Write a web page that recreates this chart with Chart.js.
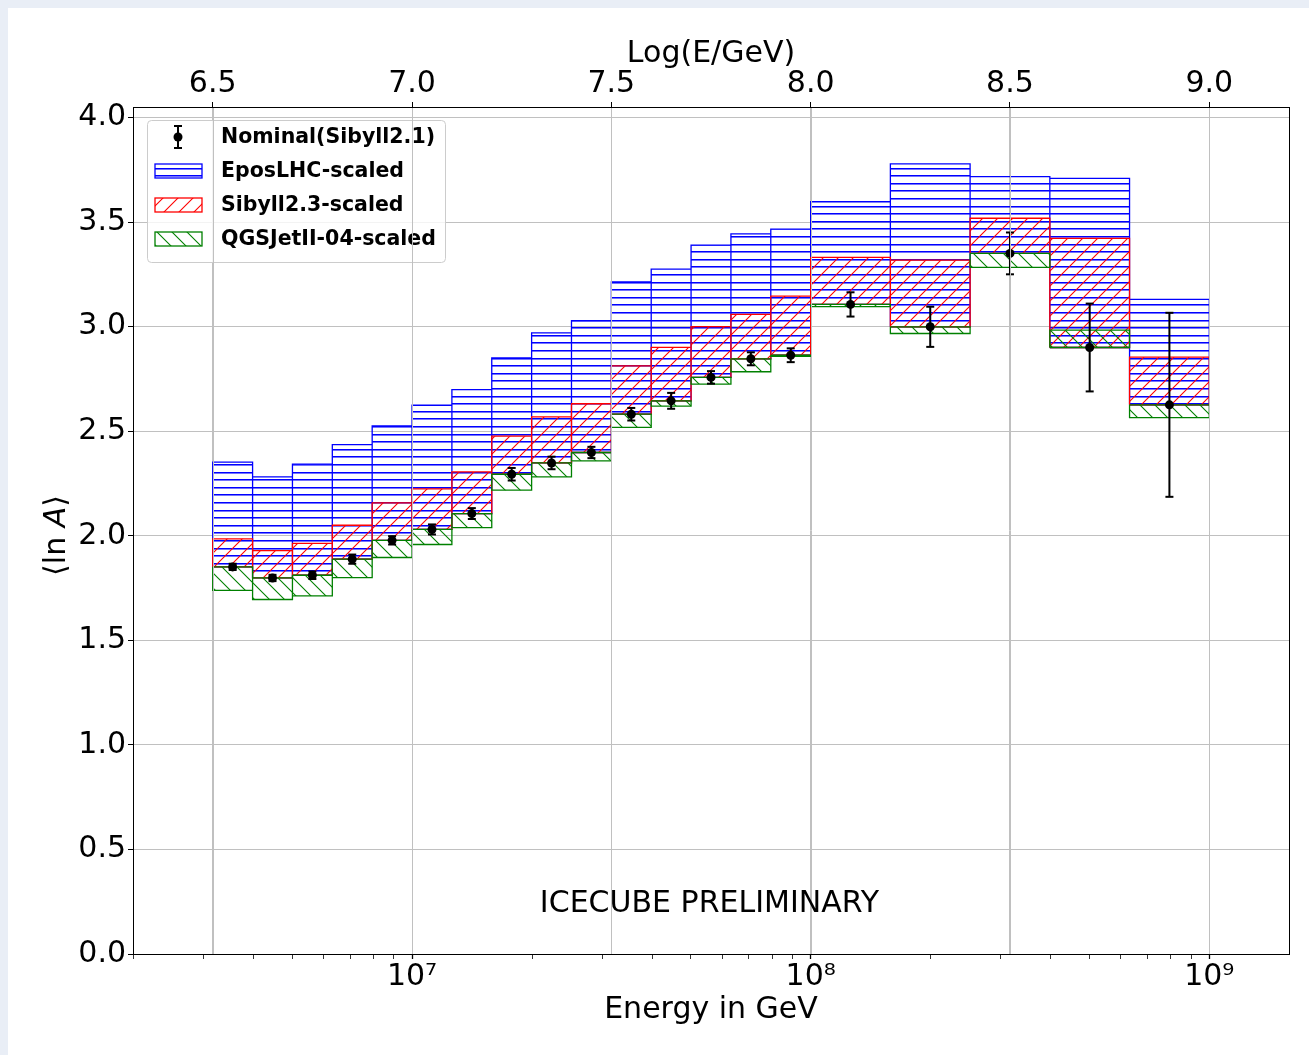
<!DOCTYPE html>
<html>
<head>
<meta charset="utf-8">
<title>lnA vs energy</title>
<script src="https://cdn.jsdelivr.net/npm/chart.js@4.4.1/dist/chart.umd.min.js"></script>
<style>
  html, body { margin: 0; padding: 0; background: #e9eef6; }
  #wrap { position: absolute; left: 8px; top: 8px; width: 1301px; height: 1047px; background: #fff; }
  canvas { display: block; }
</style>
</head>
<body>
<div id="wrap"><canvas id="chart" width="1301" height="1047"></canvas></div>
<script>
// bin edges in log10(E/GeV)
const binEdges = [6.5, 6.6, 6.7, 6.8, 6.9, 7.0, 7.1, 7.2, 7.3, 7.4, 7.5,
                  7.6, 7.7, 7.8, 7.9, 8.0, 8.2, 8.4, 8.6, 8.8, 9.0];

// nominal <lnA> (Sibyll2.1) and its error
const nominal = [1.851, 1.798, 1.811, 1.888, 1.978, 2.030, 2.106, 2.294, 2.348, 2.398,
                 2.581, 2.645, 2.757, 2.846, 2.863, 3.106, 2.999, 3.350, 2.900, 2.626];
const nominalErr = [0.015, 0.015, 0.018, 0.022, 0.020, 0.024, 0.026, 0.030, 0.030, 0.027,
                    0.030, 0.038, 0.030, 0.031, 0.033, 0.058, 0.096, 0.100, 0.210, 0.440];

// scaled values from the other hadronic models
const eposLHC = [2.352, 2.281, 2.342, 2.436, 2.525, 2.624, 2.699, 2.850, 2.970, 3.029,
                 3.214, 3.275, 3.390, 3.443, 3.466, 3.597, 3.778, 3.717, 3.709, 3.130];
const sibyll23 = [1.985, 1.929, 1.963, 2.050, 2.157, 2.224, 2.305, 2.476, 2.568, 2.631,
                  2.812, 2.901, 3.000, 3.058, 3.146, 3.331, 3.318, 3.518, 3.422, 2.854];
const qgsjet = [1.739, 1.695, 1.712, 1.800, 1.896, 1.958, 2.039, 2.218, 2.281, 2.358,
                2.518, 2.620, 2.725, 2.784, 2.858, 3.095, 2.967, 3.283, 2.983, 2.565];

const superscripts = { 6: '\u2076', 7: '\u2077', 8: '\u2078', 9: '\u2079' };
const FONT = "'DejaVu Sans', 'Liberation Sans', sans-serif";
const xMinLog = 6.3, xMaxLog = 9.2;

function hatch(kind, color) {
  const c = document.createElement('canvas');
  const g = c.getContext('2d');
  if (kind === '-') {
    c.width = 8; c.height = 38;
    [0, 8, 15, 23, 30].forEach(y => {
      g.fillStyle = color;
      g.fillRect(0, y, 8, 1);
      g.fillStyle = 'rgba(40,40,255,0.65)';
      g.fillRect(0, y + 1, 8, 1);
    });
  } else {
    c.width = 15; c.height = 15;
    g.strokeStyle = color;
    g.lineWidth = 1.1;
    g.beginPath();
    if (kind === '/') {
      g.moveTo(0, 15); g.lineTo(15, 0);
      g.moveTo(-2, 2); g.lineTo(2, -2);
      g.moveTo(13, 17); g.lineTo(17, 13);
    } else {
      g.moveTo(0, 0); g.lineTo(15, 15);
      g.moveTo(-2, 13); g.lineTo(2, 17);
      g.moveTo(13, -2); g.lineTo(17, 2);
    }
    g.stroke();
  }
  return g.createPattern(c, 'repeat');
}

// one closed rectangle per bin, from the nominal value to the model value
function boxPoints(model) {
  const pts = [];
  model.forEach((v, i) => {
    const x0 = Math.pow(10, binEdges[i]);
    const x1 = Math.pow(10, binEdges[i + 1]);
    const b = nominal[i];
    pts.push({x: x0, y: b}, {x: x0, y: v}, {x: x1, y: v}, {x: x1, y: b}, {x: x0, y: b}, {x: x1, y: null});
  });
  return pts;
}

const centers = nominal.map((v, i) => Math.pow(10, (binEdges[i] + binEdges[i + 1]) / 2));
const pointData = nominal.map((v, i) => ({x: centers[i], y: v}));
const errData = [];
nominal.forEach((v, i) => {
  errData.push({x: centers[i], y: v - nominalErr[i]}, {x: centers[i], y: v + nominalErr[i]}, {x: centers[i], y: null});
});

const logTicks = [];
for (let d = 6; d <= 9; d++) {
  for (let m = 1; m <= 9; m++) {
    const v = m * Math.pow(10, d);
    const l = Math.log10(v);
    if (l >= xMinLog && l <= xMaxLog) logTicks.push({value: v, major: m === 1});
  }
}

function boxDataset(label, model, color, kind, order) {
  return {
    label: label,
    legendKind: 'patch',
    data: boxPoints(model),
    borderColor: color,
    backgroundColor: hatch(kind, color),
    borderWidth: 1.3,
    fill: 'shape',
    pointRadius: 0,
    pointHitRadius: 0,
    tension: 0,
    spanGaps: false,
    order: order
  };
}

const legendPlugin = {
  id: 'mplLegend',
  afterDatasetsDraw(chart) {
    const {ctx, chartArea: a} = chart;
    const fx = a.left + 14, fy = a.top + 13, fw = 298, fh = 142;
    ctx.save();
    ctx.beginPath();
    ctx.roundRect(fx + 0.5, fy + 0.5, fw, fh, 4);
    ctx.fillStyle = 'rgba(255,255,255,0.8)';
    ctx.fill();
    ctx.strokeStyle = '#cccccc';
    ctx.lineWidth = 1;
    ctx.stroke();

    const items = chart.data.datasets.filter(d => d.legendKind).sort((p, q) => p.legendRank - q.legendRank);
    ctx.font = 'bold 20.5px ' + FONT;
    ctx.textBaseline = 'middle';
    ctx.textAlign = 'left';
    items.forEach((ds, i) => {
      const cy = fy + 17 + 34 * i;
      const hx = fx + 8;
      if (ds.legendKind === 'errorbar') {
        const cx = hx + 23;
        ctx.strokeStyle = '#000';
        ctx.lineWidth = 2;
        ctx.beginPath();
        ctx.moveTo(cx, cy - 11); ctx.lineTo(cx, cy + 11);
        ctx.moveTo(cx - 4, cy - 11); ctx.lineTo(cx + 4, cy - 11);
        ctx.moveTo(cx - 4, cy + 11); ctx.lineTo(cx + 4, cy + 11);
        ctx.stroke();
        ctx.fillStyle = '#000';
        ctx.beginPath();
        ctx.arc(cx, cy, 4.5, 0, Math.PI * 2);
        ctx.fill();
      } else {
        ctx.fillStyle = ds.backgroundColor;
        ctx.fillRect(hx, cy - 7, 47, 14);
        ctx.strokeStyle = ds.borderColor;
        ctx.lineWidth = 1.3;
        ctx.strokeRect(hx, cy - 7, 47, 14);
      }
      ctx.fillStyle = '#000';
      ctx.fillText(ds.label, fx + 74, cy + 1);
    });

    // the top axis grid sits over everything in the original figure
    const x2 = chart.scales.x2;
    ctx.strokeStyle = '#c0c0c0';
    ctx.lineWidth = 1;
    ctx.beginPath();
    x2.ticks.forEach(t => {
      const px = Math.round(x2.getPixelForValue(t.value)) + 0.5;
      ctx.moveTo(px, a.top); ctx.lineTo(px, a.bottom);
    });
    ctx.stroke();

    // watermark
    const xs = chart.scales.x, ys = chart.scales.y;
    ctx.font = '30px ' + FONT;
    ctx.textAlign = 'center';
    ctx.textBaseline = 'alphabetic';
    ctx.fillStyle = '#000';
    ctx.fillText('ICECUBE PRELIMINARY', xs.getPixelForValue(Math.pow(10, 7.746)), ys.getPixelForValue(0.2));

    // y axis label <ln A> with italic A
    const parts = [['\u27E8ln ', '30px ' + FONT], ['A', 'italic 30px ' + FONT], ['\u27E9', '30px ' + FONT]];
    let total = 0;
    parts.forEach(p => { ctx.font = p[1]; total += ctx.measureText(p[0]).width; });
    ctx.translate(49, (a.top + a.bottom) / 2 + 5);
    ctx.rotate(-Math.PI / 2);
    ctx.textAlign = 'left';
    ctx.textBaseline = 'middle';
    let px = -total / 2;
    parts.forEach(p => { ctx.font = p[1]; ctx.fillText(p[0], px, 0); px += ctx.measureText(p[0]).width; });
    ctx.setTransform(1, 0, 0, 1, 0, 0);

    // axes frame
    ctx.strokeStyle = '#000';
    ctx.lineWidth = 1;
    ctx.strokeRect(Math.round(a.left) + 0.5, Math.round(a.top) + 0.5,
                   Math.round(a.right - a.left), Math.round(a.bottom - a.top));
    ctx.restore();
  }
};

const tickFont = {family: FONT, size: 30};

new Chart(document.getElementById('chart'), {
  type: 'line',
  data: {
    datasets: [
      {
        label: 'Nominal(Sibyll2.1)',
        legendKind: 'errorbar',
        legendRank: 0,
        data: pointData,
        showLine: false,
        pointRadius: 4.5,
        pointBackgroundColor: '#000',
        pointBorderWidth: 0,
        order: 1
      },
      {
        label: 'nominal error',
        data: errData,
        borderColor: '#000',
        borderWidth: 2,
        pointStyle: 'line',
        pointRadius: 4,
        pointBorderColor: '#000',
        pointBorderWidth: 2,
        spanGaps: false,
        order: 2
      },
      Object.assign(boxDataset('QGSJetII-04-scaled', qgsjet, '#008000', '\\', 3), {legendRank: 3}),
      Object.assign(boxDataset('Sibyll2.3-scaled', sibyll23, '#ff0000', '/', 4), {legendRank: 2}),
      Object.assign(boxDataset('EposLHC-scaled', eposLHC, '#0000ff', '-', 5), {legendRank: 1})
    ]
  },
  options: {
    responsive: false,
    animation: false,
    events: [],
    layout: { padding: {left: 0, right: 20, top: 0, bottom: 0} },
    plugins: {
      legend: { display: false },
      tooltip: { enabled: false },
      filler: { propagate: false }
    },
    scales: {
      x: {
        type: 'logarithmic',
        position: 'bottom',
        min: Math.pow(10, xMinLog),
        max: Math.pow(10, xMaxLog),
        afterBuildTicks: s => { s.ticks = logTicks.map(t => ({value: t.value, major: t.major})); },
        afterFit: s => { s.height = 101; },
        border: { display: false },
        grid: {
          drawOnChartArea: false,
          drawTicks: true,
          tickLength: 5,
          tickColor: '#000',
          tickWidth: c => (c.tick && c.tick.major ? 1.3 : 0.8)
        },
        ticks: {
          autoSkip: false,
          maxRotation: 0,
          padding: 0,
          color: '#000',
          font: tickFont,
          callback: v => {
            const e = Math.log10(v);
            return Math.abs(e - Math.round(e)) < 1e-9 ? '10' + superscripts[Math.round(e)] : '';
          }
        },
        title: {
          display: true,
          text: 'Energy in GeV',
          color: '#000',
          font: {family: FONT, size: 30},
          padding: {top: 0, bottom: 27}
        }
      },
      x2: {
        type: 'linear',
        position: 'top',
        min: xMinLog,
        max: xMaxLog,
        afterFit: s => { s.height = 99; },
        border: { display: false },
        grid: { color: '#c0c0c0', lineWidth: 1, tickLength: 5, tickColor: '#000' },
        ticks: {
          stepSize: 0.5,
          includeBounds: false,
          padding: 0,
          maxRotation: 0,
          color: '#000',
          font: tickFont,
          callback: v => v.toFixed(1)
        },
        title: {
          display: true,
          text: 'Log(E/GeV)',
          color: '#000',
          font: {family: FONT, size: 30},
          padding: {top: 28, bottom: 0}
        }
      },
      y: {
        type: 'linear',
        min: 0,
        max: 4.05,
        afterFit: s => { s.width = 125; },
        border: { display: false },
        grid: { color: '#c0c0c0', lineWidth: 1, tickLength: 5, tickColor: '#000' },
        ticks: {
          stepSize: 0.5,
          includeBounds: false,
          padding: 2,
          color: '#000',
          font: tickFont,
          callback: v => v.toFixed(1)
        }
      }
    }
  },
  plugins: [legendPlugin]
});
</script>
</body>
</html>
